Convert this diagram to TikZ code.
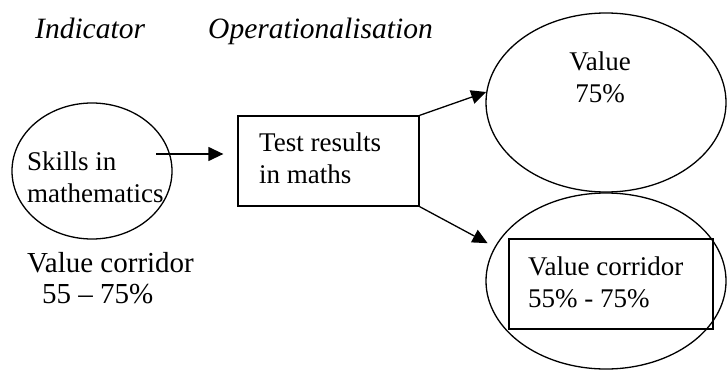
\documentclass[tikz,border=0pt]{standalone}
\usepackage{fontspec}
\setmainfont{Liberation Serif}
\usetikzlibrary{shapes,arrows.meta}

\tikzset{
	oval/.style={ellipse,draw=black,line width=1.3pt,inner sep=0pt},
	box/.style={rectangle,draw=black,line width=1.3pt,inner sep=0pt},
	txt/.style={inner sep=0pt,align=left,anchor=base west,font=\fontsize{27}{32}\selectfont},
	heading/.style={inner sep=0pt,anchor=base west,font=\fontsize{29.5}{34}\selectfont\itshape},
	arr/.style={line width=1.3pt,-{Triangle[length=15pt,width=14pt]}}
}

\begin{document}
\begin{tikzpicture}[x=1pt,y=-1pt]
		\useasboundingbox (0,0) rectangle (727,369);

		\node[heading] (indicator) at (35,39) {Indicator};
		\node[heading] (operational) at (208,39) {Operationalisation};

		\node[oval,minimum width=160,minimum height=136] (skills) at (92,171) {};
		\node[box,minimum width=181,minimum height=90] (test) at (328.5,161) {};
		\node[oval,minimum width=240,minimum height=179] (value) at (606,102.5) {};
		\node[oval,minimum width=240,minimum height=176] (corridor) at (606,281) {};
		\node[box,minimum width=204,minimum height=90] (range) at (611,284) {};

		\node[txt] (skillstext) at (27,202) {Skills in\\mathematics};
		\node[txt] (testtext) at (259,183) {Test results\\in maths};
		\node[txt,align=center,anchor=base] (valuetext) at (600,102) {Value\\75\%};
		\node[txt] (rangetext) at (528,307) {Value corridor\\55\% - 75\%};
		\node[txt,font=\fontsize{29}{31}\selectfont] (corridortext) at (27,303) {Value corridor\\\hspace*{15pt}55 -- 75\%};

		\coordinate (skillsout) at (156,154);
		\draw[arr,shorten >=14pt] (skillsout) -- (skillsout -| test.west);
		\draw[arr] (test.north east) -- (value.175);
		\draw[arr,shorten >=8pt] (test.south east) -- (corridor.163);
	\end{tikzpicture}
\end{document}
